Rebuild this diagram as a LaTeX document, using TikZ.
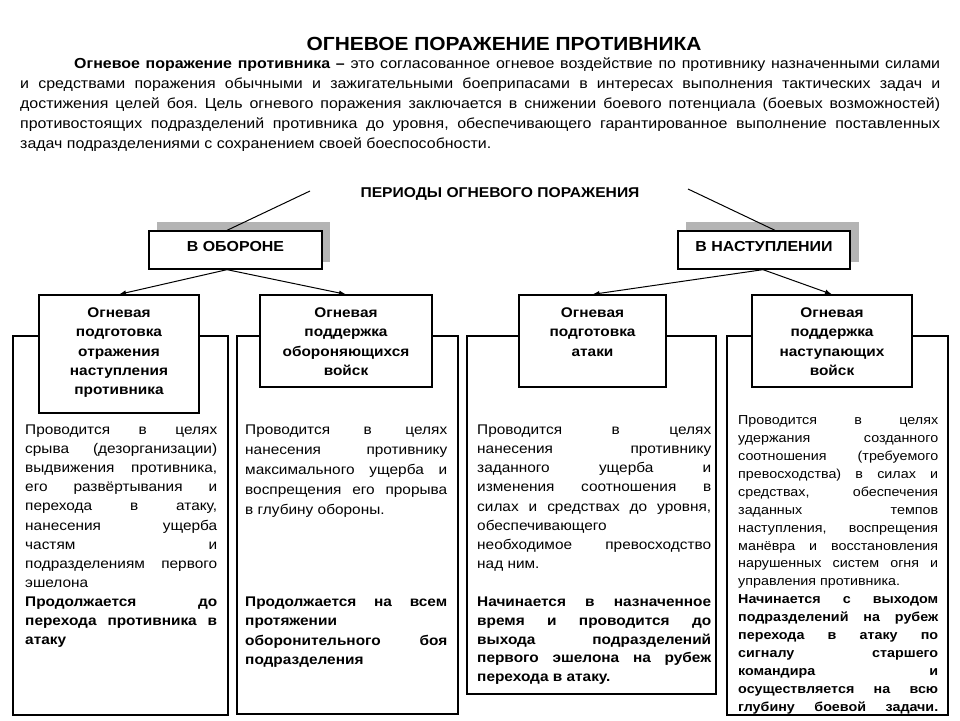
\documentclass[tikz,border=0pt]{standalone}
\usepackage{fontspec}
\setmainfont{Liberation Sans}[FakeStretch=1.1]
\usetikzlibrary{arrows.meta}
\definecolor{shadowgray}{RGB}{180,180,180}
\frenchspacing
\newcommand{\jline}[1]{\hbox to \hsize{#1}}
\newcommand{\lline}[1]{\hbox to \hsize{#1\hfil}}
\newcommand{\cenl}[1]{\hbox to \hsize{\hfil#1\hfil}}
\newcommand{\fs}[2]{\fontsize{#1}{#2}\selectfont}
\begin{document}
\begin{tikzpicture}[x=1pt,y=-1pt,
  frame/.style={draw=black, line width=1.3pt},
  box/.style={draw=black, fill=white, line width=1.3pt, inner sep=0pt},
  txt/.style={inner sep=0pt, anchor=base west},
  ctxt/.style={inner sep=0pt, anchor=base},
  conn/.style={line width=1pt},
  arr/.style={-{Latex[length=7pt,width=5pt]}, line width=1pt}]
\fill[white] (0,0) rectangle (960,720);
\useasboundingbox (0,0) rectangle (960,720);

% title and definition
\node[ctxt, font=\bfseries\fs{19}{23}] (title) at (504,50.5) {ОГНЕВОЕ ПОРАЖЕНИЕ ПРОТИВНИКА};
\node[txt, font=\fs{14.5}{20}] (para) at (20,68.5) {\vtop{\hsize=920pt
\jline{\hskip54pt\textbf{Огневое поражение противника –} это согласованное огневое воздействие по противнику назначенными силами}
\jline{и средствами поражения обычными и зажигательными боеприпасами в интересах выполнения тактических задач и}
\jline{достижения целей боя. Цель огневого поражения заключается в снижении боевого потенциала (боевых возможностей)}
\jline{противостоящих подразделений противника до уровня, обеспечивающего гарантированное выполнение поставленных}
\lline{задач подразделениями с сохранением своей боеспособности.}}};

\node[ctxt, font=\bfseries\fs{14.2}{17}] (periods) at (500,197) {ПЕРИОДЫ ОГНЕВОГО ПОРАЖЕНИЯ};
\coordinate (ptl) at (310,191);
\coordinate (ptr) at (688,189);

% column frames
\draw[frame] (13,336) rectangle (228,715);
\draw[frame] (237,336) rectangle (458,714);
\draw[frame] (467,336) rectangle (716,694);
\draw[frame] (727,336) rectangle (948,715);

% shadows
\fill[shadowgray] (157,222) rectangle (330,262);
\fill[shadowgray] (686,222) rectangle (859,262);

% period boxes
\node[box, minimum width=173pt, minimum height=38pt] (obor) at (235.5,250) {};
\node[box, minimum width=172pt, minimum height=38pt] (nast) at (764,250) {};
\node[ctxt, font=\bfseries\fs{14.5}{17}] (lobor) at (235.5,251) {В ОБОРОНЕ};
\node[ctxt, font=\bfseries\fs{14.5}{17}] (lnast) at (764,251) {В НАСТУПЛЕНИИ};

% sub boxes
\node[box, minimum width=160pt, minimum height=118pt] (b1) at (119,354) {};
\node[box, minimum width=172pt, minimum height=92pt] (b2) at (346,341) {};
\node[box, minimum width=147pt, minimum height=92pt] (b3) at (592.5,341) {};
\node[box, minimum width=160pt, minimum height=92pt] (b4) at (832,341) {};

\node[ctxt, font=\bfseries\fs{14}{19.3}] (t1) at (119,317.5) {\vtop{\hsize=155pt
\cenl{Огневая}\cenl{подготовка}\cenl{отражения}\cenl{наступления}\cenl{противника}}};
\node[ctxt, font=\bfseries\fs{14}{19.3}] (t2) at (346,317.5) {\vtop{\hsize=165pt
\cenl{Огневая}\cenl{поддержка}\cenl{обороняющихся}\cenl{войск}}};
\node[ctxt, font=\bfseries\fs{14}{19.3}] (t3) at (592.5,317.5) {\vtop{\hsize=140pt
\cenl{Огневая}\cenl{подготовка}\cenl{атаки}}};
\node[ctxt, font=\bfseries\fs{14}{19.3}] (t4) at (832,317.5) {\vtop{\hsize=155pt
\cenl{Огневая}\cenl{поддержка}\cenl{наступающих}\cenl{войск}}};

% connectors
\draw[conn] ([xshift=-8.5pt]obor.north) -- (ptl);
\draw[conn] ([xshift=11pt]nast.north) -- (ptr);
\draw[arr] ([xshift=-8.5pt]obor.south) -- (b1.north);
\draw[arr] ([xshift=-8.5pt]obor.south) -- (b2.north);
\draw[arr] ([xshift=-1pt]nast.south) -- (b3.north);
\draw[arr] ([xshift=-1pt]nast.south) -- (b4.north);

% column 1
\node[txt, font=\fs{14}{19.1}] (c1) at (25,434.5) {\vtop{\hsize=192pt
\jline{Проводится в целях}
\jline{срыва (дезорганизации)}
\jline{выдвижения противника,}
\jline{его развёртывания и}
\jline{перехода в атаку,}
\jline{нанесения ущерба}
\jline{частям и}
\jline{подразделениям первого}
\lline{эшелона}
\jline{\bfseries Продолжается до}
\jline{\bfseries перехода противника в}
\lline{\bfseries атаку}}};

% column 2
\node[txt, font=\fs{14}{20}] (c2a) at (245,434.5) {\vtop{\hsize=202pt
\jline{Проводится в целях}
\jline{нанесения противнику}
\jline{максимального ущерба и}
\jline{воспрещения его прорыва}
\lline{в глубину обороны.}}};
\node[txt, font=\bfseries\fs{14}{19.3}] (c2b) at (245,606.5) {\vtop{\hsize=202pt
\jline{Продолжается на всем}
\lline{протяжении}
\jline{оборонительного боя}
\lline{подразделения}}};

% column 3
\node[txt, font=\fs{14}{19.15}] (c3a) at (477,434.5) {\vtop{\hsize=234pt
\jline{Проводится в целях}
\jline{нанесения противнику}
\jline{заданного ущерба и}
\jline{изменения соотношения в}
\jline{силах и средствах до уровня,}
\lline{обеспечивающего}
\jline{необходимое превосходство}
\lline{над ним.}}};
\node[txt, font=\bfseries\fs{14}{18.75}] (c3b) at (477,606.5) {\vtop{\hsize=234pt
\jline{Начинается в назначенное}
\jline{время и проводится до}
\jline{выхода подразделений}
\jline{первого эшелона на рубеж}
\lline{перехода в атаку.}}};

% column 4
\node[txt, font=\fs{13}{17.9}] (c4) at (738,424.7) {\vtop{\hsize=200pt
\jline{Проводится в целях}
\jline{удержания созданного}
\jline{соотношения (требуемого}
\jline{превосходства) в силах и}
\jline{средствах, обеспечения}
\jline{заданных темпов}
\jline{наступления, воспрещения}
\jline{манёвра и восстановления}
\jline{нарушенных систем огня и}
\lline{управления противника.}
\jline{\bfseries Начинается с выходом}
\jline{\bfseries подразделений на рубеж}
\jline{\bfseries перехода в атаку по}
\jline{\bfseries сигналу старшего}
\jline{\bfseries командира и}
\jline{\bfseries осуществляется на всю}
\jline{\bfseries глубину боевой задачи.}}};
\end{tikzpicture}
\end{document}
